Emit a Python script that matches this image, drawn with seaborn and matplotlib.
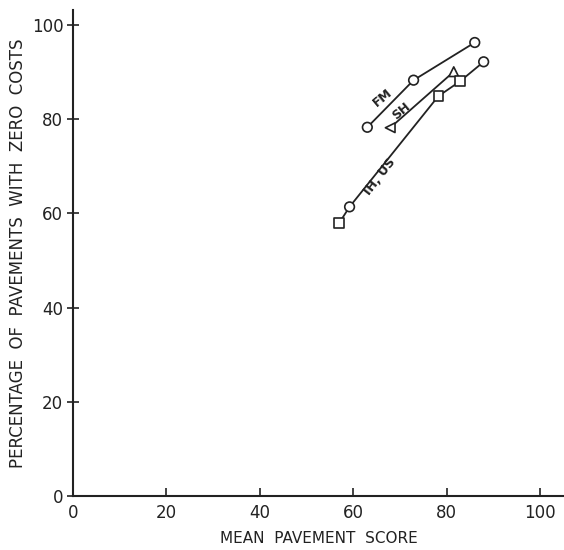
import pandas as pd
import matplotlib.pyplot as plt
import seaborn as sns

# values
fm_x = [63.0, 72.9, 86.0]
fm_y = [78.3, 88.3, 96.3]
fm_marks = ["o", "o", "o"]

sh_x = [67.9, 81.5]
sh_y = [78.2, 90.1]
sh_marks = ["<", "^"]

ih_x = [57.0, 59.2, 78.2, 82.9, 87.9]
ih_y = [58.0, 61.4, 84.9, 88.1, 92.2]
ih_marks = ["s", "o", "s", "s", "o"]

x_ticks = [0, 20, 40, 60, 80, 100]
y_ticks = [0, 20, 40, 60, 80, 100]


def build_frame(name, xs, ys, marks):
    return pd.DataFrame({"series": name, "x": xs, "y": ys, "mark": marks})


df = pd.concat([
    build_frame("FM", fm_x, fm_y, fm_marks),
    build_frame("SH", sh_x, sh_y, sh_marks),
    build_frame("IH, US", ih_x, ih_y, ih_marks),
], ignore_index=True)

sns.set_theme(style="ticks")
plt.rcParams["font.family"] = ["DejaVu Sans"]

fig = plt.figure(figsize=(5.64, 5.5), dpi=100)
ax = fig.add_axes([0.1294, 0.0982, 0.8706, 0.8836])

# curves
for name, grp in df.groupby("series", sort=False):
    sns.lineplot(data=grp, x="x", y="y", sort=False, estimator=None,
                 color="#222222", linewidth=1.3, ax=ax)

# open markers
marker_map = {"o": "o", "s": "s", "<": "<", "^": "^"}
sns.scatterplot(data=df, x="x", y="y", style="mark", markers=marker_map,
                s=48, facecolor="white", edgecolor="#222222", linewidth=1.2,
                legend=False, ax=ax, zorder=5)

# series labels along the curves
ax.text(66.3, 84.6, "FM", rotation=40, ha="center", va="center",
        fontsize=9, fontweight="bold", color="#222222")
ax.text(70.2, 81.8, "SH", rotation=40, ha="center", va="center",
        fontsize=9, fontweight="bold", color="#222222")
ax.text(65.6, 67.8, "IH, US", rotation=52, ha="center", va="center",
        fontsize=9, fontweight="bold", color="#222222")

ax.set_xlim(0, 105.1)
ax.set_ylim(0, 103.2)
ax.set_xticks(x_ticks)
ax.set_yticks(y_ticks)
ax.tick_params(length=6, width=1.2, labelsize=12, colors="#222222")
ax.tick_params(axis="x", direction="in", pad=6)
ax.tick_params(axis="y", direction="inout", length=8, pad=3)
for side in ["top", "right"]:
    ax.spines[side].set_visible(False)
for side in ["left", "bottom"]:
    ax.spines[side].set_linewidth(1.5)
    ax.spines[side].set_color("#222222")

ax.set_xlabel("MEAN  PAVEMENT  SCORE", fontsize=11, color="#222222", labelpad=6)
ax.set_ylabel("PERCENTAGE  OF  PAVEMENTS  WITH  ZERO  COSTS", fontsize=12,
              color="#222222", labelpad=3)

fig.savefig("out.png", dpi=100)
